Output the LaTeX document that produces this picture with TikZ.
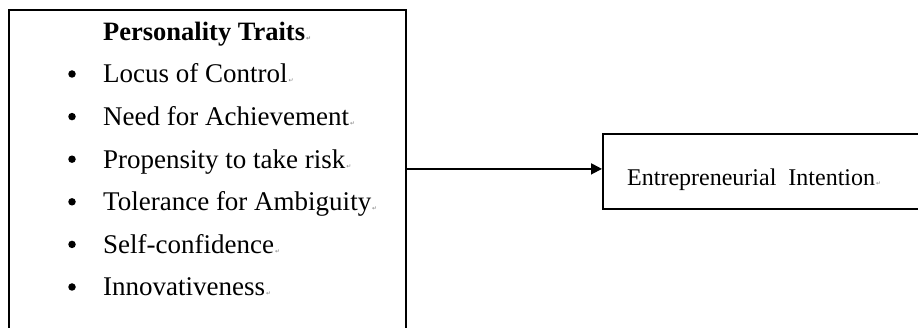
\documentclass[tikz,border=0pt]{standalone}
\usepackage{fontspec}
\setmainfont{Liberation Serif}
\newfontfamily\markfont{DejaVu Sans}
\usetikzlibrary{arrows.meta,positioning}

% small return mark after each line
\newcommand{\retmark}{{\markfont\fontsize{6}{6}\selectfont\color{gray}\,↵}}

\begin{document}
\begin{tikzpicture}[x=1pt,y=-1pt,
  frame/.style={draw, line width=1.8pt, inner sep=0pt},
  trait/.style={anchor=base west, inner sep=0pt, font=\fontsize{27}{27}\selectfont},
  dot/.style={circle, fill, inner sep=0pt, minimum size=7.5pt}]

\useasboundingbox (0,0) rectangle (918,328);
\clip (0,0) rectangle (918,328);

% Left box
\node[frame, anchor=north west, minimum width=397pt, minimum height=340pt] (traits) at (8,9) {};
\node[trait, font=\fontsize{26.5}{26.5}\selectfont\bfseries] (title) at (103,41) {Personality Traits\retmark};

% Traits list
\foreach \txt [count=\i] in {Locus of Control, Need for Achievement, Propensity to take risk,
  Tolerance for Ambiguity, Self-confidence, Innovativeness}
{
  \node[trait] (t\i) at (103,{83+42.6*(\i-1)}) {\txt\retmark};
  \node[dot] (b\i) at (72,{74+42.6*(\i-1)}) {};
}

% Right box
\node[frame, anchor=north west, minimum width=330pt, minimum height=75pt] (intent) at (602,133) {};
\node[trait, font=\fontsize{24}{24}\selectfont] (label) at (627,186) {Entrepreneurial~ Intention\retmark};

% Arrow
\coordinate (tip) at ([yshift=2.5pt]intent.west);
\draw[line width=1.8pt, -{Triangle[length=11pt,width=11pt]}] (traits.east |- tip) -- (tip);

\end{tikzpicture}
\end{document}
